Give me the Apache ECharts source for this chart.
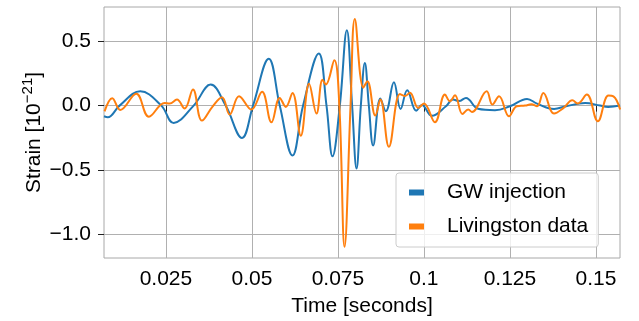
<!DOCTYPE html>
<html>
<head>
<meta charset="utf-8">
<script src="https://cdn.jsdelivr.net/npm/echarts@6/dist/echarts.min.js"></script>
<style>
  html, body { margin: 0; padding: 0; background: #fff; }
  #strain { width: 639px; height: 321px; }
</style>
</head>
<body>
<div id="strain"></div>
<script>
// time [s] and strain [1e-21]
var injTime = [0.007, 0.0081, 0.01153, 0.01755, 0.02366, 0.02724, 0.03306, 0.03801, 0.04237, 0.04712,
    0.05032, 0.05489, 0.05809, 0.06179, 0.06487, 0.06944, 0.07168, 0.07343, 0.07555, 0.07759,
    0.07913, 0.08041, 0.08166, 0.08283, 0.08399, 0.08524, 0.08734, 0.08894, 0.09127, 0.09322,
    0.09514, 0.09776, 0.09942, 0.10233, 0.1064, 0.10844, 0.11019, 0.11222, 0.11572, 0.12066,
    0.12503, 0.12998, 0.13289, 0.13783, 0.14133, 0.14686, 0.15122, 0.15355, 0.15704];
var injStrain = [-0.083, -0.091, 0.0, 0.111, 0.0, -0.135, 0.0, 0.164, 0.0, -0.252,
    0.0, 0.364, 0.0, -0.389, 0.0, 0.405, 0.0, -0.395, 0.0, 0.587,
    0.0, -0.49, 0.0, 0.332, 0.0, -0.31, 0.055, -0.044, 0.182, -0.026,
    0.119, -0.04, 0.005, -0.08, -0.005, 0.047, 0.035, 0.06, -0.025, -0.036,
    -0.005, 0.052, 0.015, -0.026, -0.005, 0.02, 0.0, -0.01, 0.0];

var livTime = [0.00716, 0.0094, 0.01173, 0.01639, 0.02005, 0.02462, 0.02608, 0.0282, 0.03044, 0.03286,
    0.03548, 0.0385, 0.0413, 0.04354, 0.04625, 0.04985, 0.05294, 0.05568, 0.05809, 0.05984,
    0.06179, 0.0642, 0.06662, 0.06877, 0.07052, 0.07148, 0.07395, 0.07541, 0.07692, 0.07867,
    0.07992, 0.08239, 0.08356, 0.08588, 0.08734, 0.08981, 0.09302, 0.0945, 0.09593, 0.09834,
    0.1, 0.1032, 0.10611, 0.10757, 0.10902, 0.1112, 0.11289, 0.11397, 0.11825, 0.11988,
    0.12183, 0.12474, 0.12698, 0.1294, 0.1312, 0.13289, 0.13472, 0.13783, 0.14054, 0.14316,
    0.14473, 0.14735, 0.15055, 0.15364, 0.15509, 0.15704];
var livStrain = [-0.045, 0.058, -0.034, 0.092, -0.086, 0.021, 0.016, 0.047, -0.023, 0.125,
    -0.117, -0.01, 0.065, -0.07, 0.073, -0.031, 0.107, -0.13, 0.06, -0.01,
    0.099, -0.234, 0.171, -0.062, 0.202, 0.164, 0.354, 0.0, -1.10, 0.0,
    0.674, 0.14, 0.19, -0.078, 0.047, -0.32, 0.09, 0.075, 0.1, -0.018,
    0.016, -0.13, 0.086, 0.034, 0.08, -0.065, -0.03, -0.05, 0.111, 0.008,
    0.073, -0.083, -0.005, 0.0, 0.01, -0.005, 0.099, -0.062, -0.02, 0.041,
    0.016, 0.086, -0.122, 0.078, 0.072, -0.031];

var xTicks = [0.025, 0.05, 0.075, 0.1, 0.125, 0.15];
var yTicks = [-1.0, -0.5, 0.0, 0.5];

function pairs(xs, ys) {
    var out = [];
    for (var i = 0; i < xs.length; i++) {
        out.push([xs[i], ys[i]]);
    }
    return out;
}

var chart = echarts.init(document.getElementById('strain'));
var font = 'Liberation Sans';

var option = {
    animation: false,
    textStyle: { fontFamily: font },
    grid: {
        left: 104, right: 19, top: 7, bottom: 63,
        outerBoundsMode: 'none',
        containLabel: false,
        show: true, borderColor: '#a8a8a8', borderWidth: 1
    },
    legend: {
        orient: 'vertical',
        left: 396, top: 173,
        padding: [9, 10, 10, 13],
        itemGap: 13,
        itemWidth: 15, itemHeight: 6,
        icon: 'rect',
        backgroundColor: 'rgba(255,255,255,0.8)',
        borderColor: '#cccccc', borderWidth: 1, borderRadius: 3,
        textStyle: { fontFamily: font, fontSize: 21, color: '#000', padding: [0, 0, 0, 18] },
        data: ['GW injection', 'Livingston data']
    },
    xAxis: {
        type: 'value',
        min: 0.007, max: 0.157,
        minInterval: 0.025, maxInterval: 0.025,
        name: 'Time [seconds]',
        nameLocation: 'middle',
        nameGap: 38,
        nameMoveOverlap: false,
        nameTextStyle: { fontFamily: font, fontSize: 21, color: '#000' },
        axisLine: { show: false },
        axisTick: { show: true, customValues: xTicks, length: 6, lineStyle: { color: '#222' } },
        axisLabel: {
            customValues: xTicks, margin: 11,
            fontFamily: font, fontSize: 21, color: '#000',
            formatter: function (v) { return String(v); }
        },
        splitLine: { show: true, lineStyle: { color: '#b0b0b0', width: 1 } }
    },
    yAxis: {
        type: 'value',
        min: -1.187, max: 0.768,
        minInterval: 0.5, maxInterval: 0.5,
        name: 'Strain [10{sup|−21}]',
        nameLocation: 'middle',
        nameGap: 56,
        nameMoveOverlap: false,
        nameTextStyle: {
            fontFamily: font, fontSize: 21, color: '#000', lineHeight: 28,
            rich: { sup: { fontFamily: font, fontSize: 15, color: '#000', verticalAlign: 'top', lineHeight: 28 } }
        },
        axisLine: { show: false },
        axisTick: { show: true, customValues: yTicks, length: 6, lineStyle: { color: '#222' } },
        axisLabel: {
            customValues: yTicks, margin: 13,
            fontFamily: font, fontSize: 21, color: '#000',
            formatter: function (v) { return (v < 0 ? '−' : '') + Math.abs(v).toFixed(1); }
        },
        splitLine: { show: true, lineStyle: { color: '#b0b0b0', width: 1 } }
    },
    series: [
        {
            name: 'GW injection',
            type: 'line',
            data: pairs(injTime, injStrain),
            smooth: 0.4,
            showSymbol: false,
            lineStyle: { color: '#1f77b4', width: 2 },
            itemStyle: { color: '#1f77b4' }
        },
        {
            name: 'Livingston data',
            type: 'line',
            data: pairs(livTime, livStrain),
            smooth: 0.4,
            showSymbol: false,
            lineStyle: { color: '#ff7f0e', width: 2 },
            itemStyle: { color: '#ff7f0e' }
        }
    ]
};

chart.setOption(option);
</script>
</body>
</html>
